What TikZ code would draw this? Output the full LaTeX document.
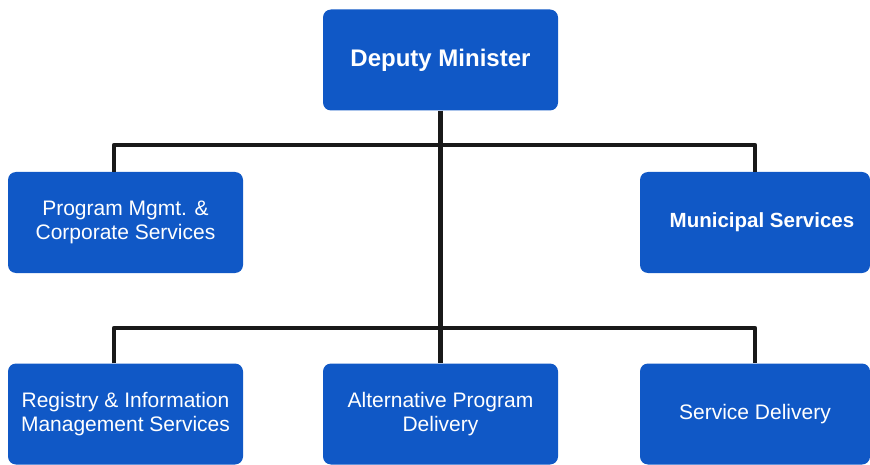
\documentclass[tikz,border=0pt]{standalone}
\usepackage{fontspec}
\setmainfont{Liberation Sans}
\usetikzlibrary{positioning}
\definecolor{orgblue}{RGB}{16,88,198}

\begin{document}
\begin{tikzpicture}[
    x=1pt, y=-1pt,
    unit_box/.style={rectangle, rounded corners=8pt, fill=orgblue, text=white, minimum width=235pt, minimum height=101pt, inner sep=2pt, align=center, font=\fontsize{21}{24}\selectfont},
    head_box/.style={unit_box, font=\bfseries\fontsize{24}{28}\selectfont},
    link/.style={line width=4.5pt, draw=black!90, line join=round}
]
\useasboundingbox (0,0) rectangle (870,465);

% Deputy Minister
\node (dm_node) at (440.5,60) [head_box] {Deputy Minister};

% Second level
\node (prog_node) at (125.5,222.5) [unit_box] {Program Mgmt. \&\\Corporate Services};
\node (muni_node) at (755,222.5) [unit_box, minimum width=230pt, font=\bfseries\fontsize{20.5}{24}\selectfont] {\hspace{14pt}Municipal Services};

% Third level
\node (reg_node) at (125.5,414) [unit_box] {Registry \& Information\\Management Services};
\node (alt_node) at (440.5,414) [unit_box] {Alternative Program\\Delivery};
\node (serv_node) at (755,414) [unit_box, minimum width=230pt] {Service Delivery};

% Connection points
\coordinate (top_left) at (114,145);
\coordinate (top_right) at (755,145);
\coordinate (low_left) at (114,328);
\coordinate (low_right) at (755,328);

% Connections
\draw [link] (dm_node.south) -- (alt_node.north);
\draw [link] (top_left |- prog_node.north) -- (top_left) -- (top_right) -- (top_right |- muni_node.north);
\draw [link] (low_left |- reg_node.north) -- (low_left) -- (low_right) -- (low_right |- serv_node.north);

\end{tikzpicture}
\end{document}
